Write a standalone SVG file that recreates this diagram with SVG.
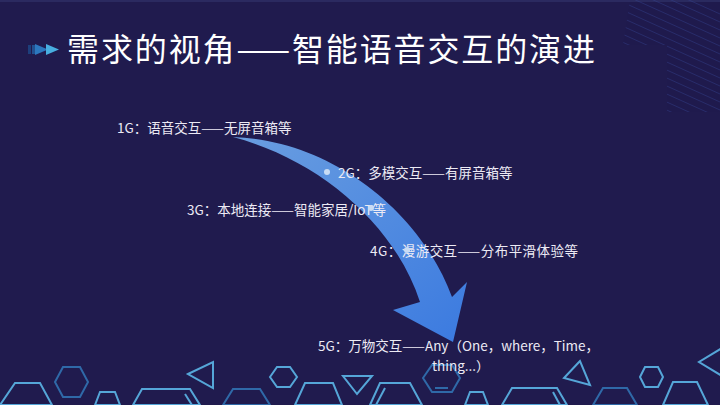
<svg xmlns="http://www.w3.org/2000/svg" width="720" height="405" viewBox="0 0 720 405">
<defs>
<style>
.lbl{font-family:"Noto Sans CJK SC","Liberation Sans",sans-serif;font-size:13.5px;fill:#eceaf4;}
.ttl{font-family:"Noto Sans CJK SC","Liberation Sans",sans-serif;font-size:32px;fill:#ffffff;}
.hl{fill:none;stroke:#55a6d8;stroke-width:2;stroke-linejoin:miter;}
.hd{fill:none;stroke:#2f69a8;stroke-width:2;}
.dot{fill:#c9dcf4;}
.stripe{stroke:#34438f;stroke-width:1;opacity:0.45;}
</style>
<linearGradient id="ag" x1="0" y1="0" x2="1" y2="1">
<stop offset="0" stop-color="#6a9ee0"/>
<stop offset="1" stop-color="#3b7ae0"/>
</linearGradient>
<clipPath id="sc">
<polygon points="630,0 720,0 720,112 667,112 667,45 623,45"/>
</clipPath>
</defs>
<rect width="720" height="405" fill="#201b4e"/>
<rect width="720" height="2" fill="#2b2a60"/>
<g clip-path="url(#sc)">
<g class="stripe">
<line x1="600" y1="-40" x2="760" y2="32"/>
<line x1="600" y1="-32" x2="760" y2="40"/>
<line x1="600" y1="-24" x2="760" y2="48"/>
<line x1="600" y1="-16" x2="760" y2="56"/>
<line x1="600" y1="-8" x2="760" y2="64"/>
<line x1="600" y1="0" x2="760" y2="72"/>
<line x1="600" y1="8" x2="760" y2="80"/>
<line x1="600" y1="16" x2="760" y2="88"/>
<line x1="600" y1="24" x2="760" y2="96"/>
<line x1="600" y1="32" x2="760" y2="104"/>
<line x1="600" y1="40" x2="760" y2="112"/>
<line x1="600" y1="48" x2="760" y2="120"/>
<line x1="600" y1="56" x2="760" y2="128"/>
<line x1="600" y1="64" x2="760" y2="136"/>
<line x1="600" y1="72" x2="760" y2="144"/>
<line x1="600" y1="80" x2="760" y2="152"/>
<line x1="600" y1="88" x2="760" y2="160"/>
<line x1="600" y1="96" x2="760" y2="168"/>
</g>
</g>
<g id="title">
<rect x="28" y="45" width="3" height="9" fill="#1d3f7c"/>
<rect x="32" y="45" width="3" height="9" fill="#22508f"/>
<polygon points="35,44 48,49.5 35,55" fill="#2c78bf"/>
<polygon points="46,44 59,49.5 46,55" fill="#48aee0"/>
<text class="ttl" x="67" y="61" textLength="528" lengthAdjust="spacing">需求的视角——智能语音交互的演进</text>
</g>
<g id="connectors">
<path d="M233,137 C330,140 420,210 452,297 L467,282 L453,342 L393,310 L420,302 C395,225 320,160 233,137 Z" fill="url(#ag)"/>
</g>
<g id="n1"><text class="lbl" x="117" y="133">1G：语音交互——无屏音箱等</text></g>
<g id="n2"><circle class="dot" cx="327" cy="172" r="3"/><text class="lbl" x="338" y="178">2G：多模交互——有屏音箱等</text></g>
<g id="n3"><text class="lbl" x="187" y="215">3G：本地连接——智能家居/IoT等</text><circle class="dot" cx="371" cy="208" r="3"/></g>
<g id="n4"><text class="lbl" x="370" y="256" textLength="208" lengthAdjust="spacing">4G：漫游交互——分布平滑体验等</text><circle class="dot" cx="407" cy="250" r="3"/></g>
<g id="deco">
<polygon class="hl" points="0,405 15,383 40,383 52,405"/>
<polygon class="hd" points="55,382 63,367 80,367 88,382 80,397 63,397"/>
<polygon class="hl" points="95,405 100,392 115,392 120,405"/>
<polygon class="hl" points="133,405 142,389 190,389 200,405"/>
<line class="hl" x1="185" y1="394" x2="192" y2="405"/>
<polygon class="hl" points="188,374 213,362 213,388"/>
<polygon class="hd" points="223,405 233,389 260,389 270,405"/>
<polygon class="hl" points="270,377 277,367 290,367 297,377 290,387 277,387"/>
<polygon class="hl" points="295,405 305,383 333,383 342,405"/>
<polygon class="hl" points="343,376 372,376 357,394"/>
<polygon class="hl" points="370,405 380,383 410,383 422,405"/>
<line class="hl" x1="385" y1="388" x2="376" y2="405"/>
<polygon class="hd" points="423,378 432,365 452,365 460,378 452,392 432,392"/>
<line class="hd" x1="435" y1="388" x2="448" y2="388"/>
<polygon class="hl" points="465,405 470,392 483,392 488,405"/>
<polygon class="hl" points="502,405 512,388 557,388 567,405"/>
<line class="hl" x1="553" y1="392" x2="560" y2="405"/>
<polygon class="hl" points="580,361 564,378 590,385"/>
<polygon class="hd" points="593,405 603,388 627,388 637,405"/>
<polygon class="hl" points="640,377 645,367 658,367 663,377 658,387 645,387"/>
<polygon class="hl" points="663,405 673,382 697,382 708,405"/>
<polygon class="hl" points="722,348 699,362 722,376"/>
</g>
<g id="n5"><text class="lbl" x="318" y="351">5G：万物交互——Any（One，where，Time，</text><text class="lbl" x="432" y="371">thing...）</text></g>
</svg>
